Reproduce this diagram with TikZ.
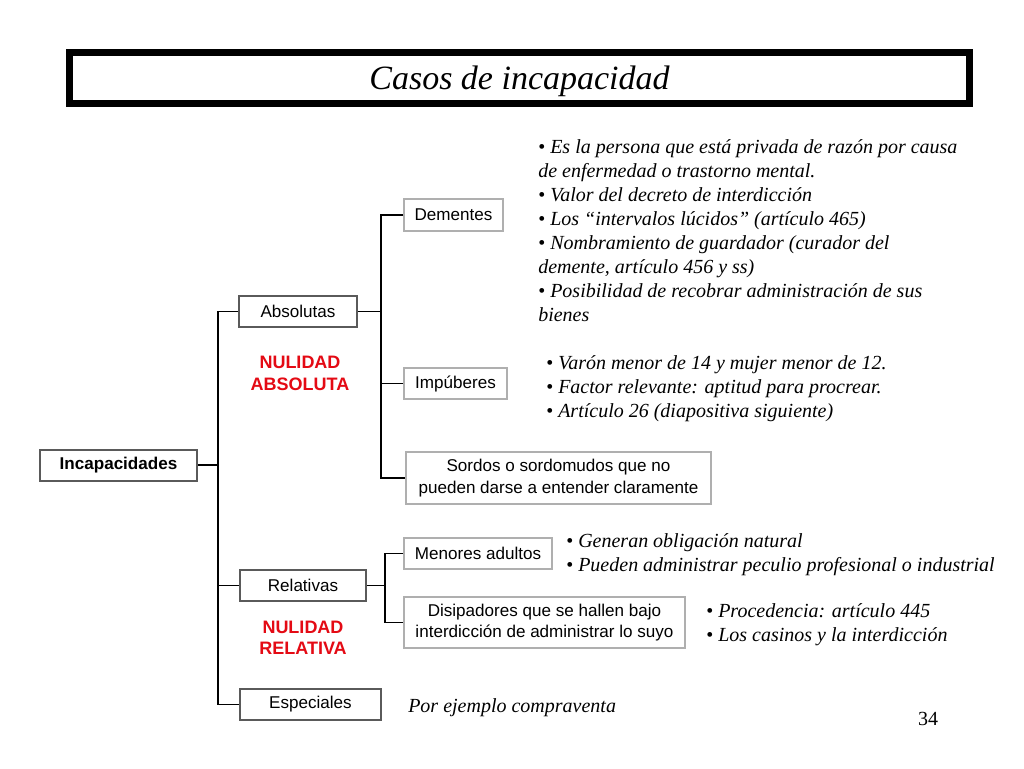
\documentclass[tikz,border=0pt]{standalone}
\usepackage{fontspec}
\setmainfont{Liberation Serif}
\newfontfamily\arialf{Liberation Sans}
\definecolor{darkbord}{RGB}{90,90,90}
\definecolor{lightbord}{RGB}{175,175,175}
\definecolor{nulred}{RGB}{228,10,20}
\tikzset{
  lvlone/.style={draw=darkbord, line width=1.5pt, fill=white, inner sep=0pt, font=\arialf\fontsize{12.8}{16}\selectfont, align=center},
  lvltwo/.style={draw=lightbord, line width=1pt, fill=white, inner sep=0pt, font=\arialf\fontsize{12.8}{16}\selectfont, align=center},
  conn/.style={draw=black, line width=1.2pt},
  nul/.style={text=nulred, font=\arialf\bfseries\fontsize{13.5}{16}\selectfont, align=center, inner sep=0pt},
  bul/.style={font=\fontsize{15}{18}\selectfont, align=left, inner sep=0pt, anchor=north west}
}
\newcommand{\bu}{\textup{\textbullet}\ }
\begin{document}
\begin{tikzpicture}[x=0.75pt,y=-0.75pt]
\useasboundingbox (0,0) rectangle (1024,768);
\fill[white] (0,0) rectangle (1024,768);
% title
\node[draw=black, line width=4.9pt, inner sep=0pt, outer sep=0pt, anchor=north west, minimum width=675pt, minimum height=38.1pt] (title) at (69.5,52.7) {};
\node[font=\fontsize{25.5}{28}\selectfont\itshape, inner sep=0pt] (titletext) at ([yshift=-2.5pt]title.center) {Casos de incapacidad};
% level boxes
\node[lvlone, minimum width=117.75pt, minimum height=23.25pt, font=\arialf\bfseries\fontsize{12.8}{16}\selectfont] (inc) at (118.5,465) {Incapacidades};
\node[lvlone, minimum width=88.5pt, minimum height=23.25pt] (abs) at (298,311.5) {Absolutas};
\node[lvlone, minimum width=94.5pt, minimum height=23.25pt] (rel) at (303,585.5) {Relativas};
\node[lvlone, minimum width=105.75pt, minimum height=23.25pt] (esp) at (310.5,704.5) {Especiales};
\node[lvltwo, minimum width=74.25pt, minimum height=24pt] (dem) at (453.5,215) {Dementes};
\node[lvltwo, minimum width=77.25pt, minimum height=23.25pt] (imp) at (455.5,383.5) {Impúberes};
\node[lvltwo, minimum width=228.75pt, minimum height=39pt] (sor) at (558.5,478) {Sordos o sordomudos que no\\pueden darse a entender claramente};
\node[lvltwo, minimum width=111pt, minimum height=23.25pt] (men) at (478,553.5) {Menores adultos};
\node[lvltwo, minimum width=210.75pt, minimum height=38.25pt] (dis) at (544.5,622.5) {Disipadores que se hallen bajo\\interdicción de administrar lo suyo};
% red labels
\node[nul] (nabs) at (300,373.5) {NULIDAD\\ABSOLUTA};
\node[nul] (nrel) at (303,638) {NULIDAD\\RELATIVA};
% connectors
\coordinate (ta) at (218,465);
\coordinate (tb) at (381,311.5);
\coordinate (tc) at (385,585.5);
\draw[conn] (inc.east) -- (ta);
\draw[conn] (abs.west) -| (ta) |- (esp.west);
\draw[conn] (rel.west) -- (rel.west -| ta);
\draw[conn] (abs.east) -- (tb);
\draw[conn] (dem.west) -| (tb) |- (sor.west);
\draw[conn] (imp.west) -- (imp.west -| tb);
\draw[conn] (rel.east) -- (tc);
\draw[conn] (men.west) -| (tc) |- (dis.west);
% texts
\node[bul] (tdem) at (538,139) {\bu\textit{Es la persona que está privada de razón por causa}\\
\textit{de enfermedad o trastorno mental.}\\
\bu\textit{Valor del decreto de interdicción}\\
\bu\textit{Los “intervalos lúcidos” (artículo 465)}\\
\bu\textit{Nombramiento de guardador (curador del}\\
\textit{demente, artículo 456 y ss)}\\
\bu\textit{Posibilidad de recobrar administración de sus}\\
\textit{bienes}};
\node[bul] (timp) at (546,355) {\bu\textit{Varón menor de 14 y mujer menor de 12.}\\
\bu\textit{Factor relevante: aptitud para procrear.}\\
\bu\textit{Artículo 26 (diapositiva siguiente)}};
\node[bul] (tmen) at (566,533) {\bu\textit{Generan obligación natural}\\
\bu\textit{Pueden administrar peculio profesional o industrial}};
\node[bul] (tdis) at (706,603) {\bu\textit{Procedencia: artículo 445}\\
\bu\textit{Los casinos y la interdicción}};
\node[font=\fontsize{15}{18}\selectfont\itshape, inner sep=0pt, anchor=west] (tesp) at (408,708) {Por ejemplo compraventa};
\node[font=\fontsize{15}{18}\selectfont, inner sep=0pt] (pnum) at (928,719) {34};
\end{tikzpicture}
\end{document}
